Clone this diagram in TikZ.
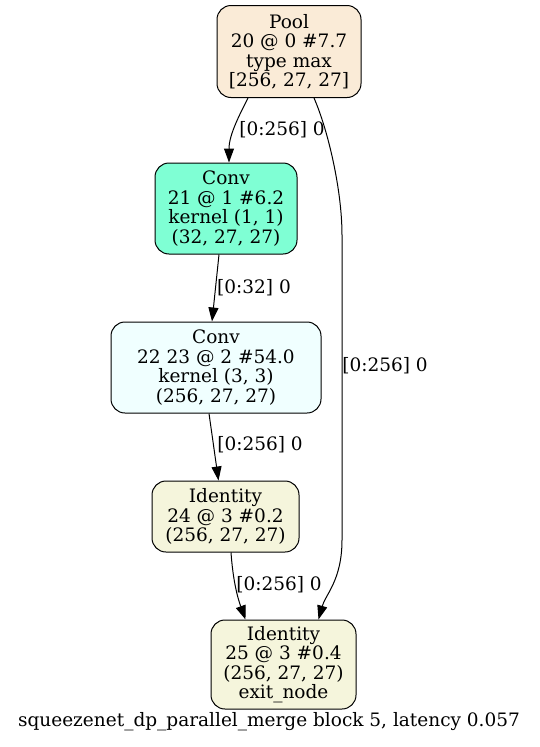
\documentclass[tikz,border=0pt]{standalone}
\usepackage{fontspec}
\setmainfont{DejaVu Serif}
\usetikzlibrary{arrows.meta}
\definecolor{cpool}{HTML}{FAEBD7}
\definecolor{caqua}{HTML}{7FFFD4}
\definecolor{cazure}{HTML}{F0FFFF}
\definecolor{cbeige}{HTML}{F5F5DC}
\tikzset{
  gnode/.style={draw=black, line width=1pt, rounded corners=14pt, align=center,
    inner sep=0pt, font=\fontsize{18.5}{19.5}\selectfont},
  elabel/.style={font=\fontsize{18.5}{19.5}\selectfont, inner sep=0pt},
  edge/.style={line width=1pt, -{Triangle[length=14pt,width=10pt]}},
}
\begin{document}
\begin{tikzpicture}[x=1pt,y=-1pt]
\useasboundingbox[fill=white] (0,0) rectangle (540,747);
\node[gnode, fill=cpool, minimum width=144pt, minimum height=92pt] (pool) at (289,51.5)
  {Pool\\20 @ 0 \#7.7\\type max\\{[256, 27, 27]}};
\node[gnode, fill=caqua, minimum width=142pt, minimum height=91pt] (c21) at (226,208.5)
  {Conv\\21 @ 1 \#6.2\\kernel (1, 1)\\(32, 27, 27)};
\node[gnode, fill=cazure, minimum width=210pt, minimum height=91pt] (c22) at (216,367.5)
  {Conv\\22 23 @ 2 \#54.0\\kernel (3, 3)\\(256, 27, 27)};
\node[gnode, fill=cbeige, minimum width=147pt, minimum height=71pt] (i24) at (225.5,516.5)
  {Identity\\24 @ 3 \#0.2\\(256, 27, 27)};
\node[gnode, fill=cbeige, minimum width=145pt, minimum height=89pt] (i25) at (283.5,664.5)
  {Identity\\25 @ 3 \#0.4\\(256, 27, 27)\\exit\_node};

\draw[edge] ([xshift=-41pt]pool.south) .. controls +(-8,16) and +(0,-28) .. ([xshift=3pt]c21.north);
\draw[edge] ([xshift=25pt]pool.south) .. controls +(14,32) and +(0,-45) .. (342,235) -- (342,540)
  .. controls +(0,40) and +(7,-25) .. ([xshift=35pt]i25.north);
\draw[edge] ([xshift=-7pt]c21.south) -- ([xshift=-4pt]c22.north);
\draw[edge] ([xshift=-7pt]c22.south) -- ([xshift=-7pt]i24.north);
\draw[edge] ([xshift=5.5pt]i24.south) .. controls +(2,28) and +(-8,-22) .. ([xshift=-38pt]i25.north);

\node[elabel] (l1) at (282,130) {[0:256] 0};
\node[elabel] (l2) at (385,366) {[0:256] 0};
\node[elabel] (l3) at (254,288) {[0:32] 0};
\node[elabel] (l4) at (260,445) {[0:256] 0};
\node[elabel] (l5) at (279,585) {[0:256] 0};
\node[elabel] (cap) at (269,722) {squeezenet\_dp\_parallel\_merge block 5, latency 0.057};
\end{tikzpicture}
\end{document}
